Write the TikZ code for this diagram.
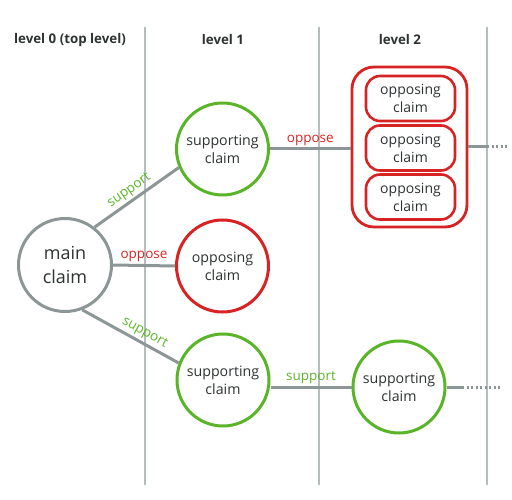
\documentclass[tikz,border=0pt]{standalone}
\usepackage{fontspec}
\setmainfont{Open Sans}
\definecolor{cgreen}{RGB}{90,180,40}
\definecolor{cred}{RGB}{215,35,35}
\definecolor{cgray}{RGB}{140,150,150}
\definecolor{clight}{RGB}{180,190,190}
\definecolor{ctext}{RGB}{45,50,50}
\begin{document}
\begin{tikzpicture}[x=1pt,y=-1pt,
  claim/.style={circle,line width=3pt,minimum size=92pt,inner sep=0pt,align=center,text=ctext,font=\fontsize{14.2}{18}\selectfont,fill=white},
  supp/.style={claim,draw=cgreen},
  opp/.style={claim,draw=cred},
  oppbox/.style={rectangle,rounded corners=14pt,draw=cred,line width=2.6pt,minimum width=89pt,minimum height=45pt,inner sep=0pt,align=center,text=ctext,font=\fontsize{14}{18}\selectfont},
  grpbox/.style={rectangle,rounded corners=22pt,draw=cred,line width=2.8pt,minimum width=115pt,minimum height=160pt,inner sep=0pt},
  conn/.style={draw=cgray,line width=3pt},
  lvl/.style={draw=clight,line width=2pt},
  hdr/.style={font=\bfseries\fontsize{13.3}{16}\selectfont,text=ctext},
  lbl/.style={font=\fontsize{13.5}{16}\selectfont,inner sep=2pt},
  dots/.style={draw=cgray,line width=3pt,dash pattern=on 2pt off 2.5pt}
]
\useasboundingbox (0,0) rectangle (512,500);
% level separators
\coordinate (v1t) at (145,27); \coordinate (v1b) at (145,485);
\coordinate (v2t) at (319,27); \coordinate (v2b) at (319,485);
\coordinate (v3t) at (487,27); \coordinate (v3b) at (487,485);
\draw[lvl] (v1t) -- (v1b);
\draw[lvl] (v2t) -- (v2b);
\draw[lvl] (v3t) -- (v3b);
% headers
\node[hdr] (h0) at (70,40) {level 0 (top level)};
\node[hdr] (h1) at (223,40) {level 1};
\node[hdr] (h2) at (400,40) {level 2};
% centres
\coordinate (mc) at (65,265);
\coordinate (s1c) at (222.5,149);
\coordinate (o1c) at (222.5,266);
\coordinate (s2c) at (223,380);
\coordinate (s3c) at (399,387);
\coordinate (gc) at (409.5,147);
% nodes
\node[claim,draw=cgray,font=\fontsize{18}{24}\selectfont,minimum size=93pt] (main) at (mc) {main\\claim};
\node[supp] (s1) at (s1c) {supporting\\claim};
\node[opp] (o1) at (o1c) {opposing\\claim};
\node[supp] (s2) at (s2c) {supporting\\claim};
\node[supp] (s3) at (s3c) {supporting\\claim};
\node[grpbox] (grp) at (gc) {};
\node[oppbox] (b1) at (410.5,98.5) {opposing\\claim};
\node[oppbox] (b2) at (410.5,148) {opposing\\claim};
\node[oppbox] (b3) at (410.5,197) {opposing\\claim};
% edges
\draw[conn] (main.52) -- node[lbl,pos=0.48,sloped,above,text=cgreen] (l1) {support} (s1.203);
\draw[conn] (main.east) -- node[lbl,pos=0.5,above,text=cred] (l2) {oppose} (o1.west);
\draw[conn] (main.291) -- node[lbl,pos=0.6,sloped,above,text=cgreen] (l3) {support} (s2.159);
\draw[conn] (s1.east) -- node[lbl,pos=0.5,above,text=cred] (l4) {oppose} (s1.east -| grp.west);
\draw[conn] (s2.east |- s3.west) -- node[lbl,pos=0.5,above,text=cgreen] (l5) {support} (s3.west);
% continuation
\coordinate (ge1) at (487,147); \coordinate (ge2) at (507,147);
\coordinate (se1) at (462,387); \coordinate (se2) at (500,387);
\draw[conn] (grp.east) -- (ge1);
\draw[dots] (ge1) -- (ge2);
\draw[conn] (s3.east) -- (se1);
\draw[dots] (se1) -- (se2);
\end{tikzpicture}
\end{document}
